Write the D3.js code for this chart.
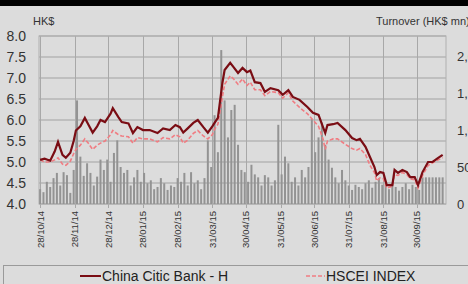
<!DOCTYPE html>
<html>
<head>
<meta charset="utf-8">
<script src="https://cdn.jsdelivr.net/npm/d3@7"></script>
<style>
  body { margin: 0; background: #dcdcdc; }
  svg { display: block; font-family: "Liberation Sans", Arial, sans-serif; }
</style>
</head>
<body>
<div id="chart-area"></div>
<script>

// Price series (HK$), dates as day/month/year
let priceDates = ["28/10/14","01/11/14","06/11/14","10/11/14","13/11/14","17/11/14","20/11/14","24/11/14","27/11/14","29/11/14",
  "03/12/14","07/12/14","10/12/14","14/12/14","18/12/14","21/12/14","25/12/14","30/12/14","01/01/15","06/01/15",
  "09/01/15","15/01/15","19/01/15","23/01/15","28/01/15","03/02/15","10/02/15","15/02/15","21/02/15","26/02/15",
  "02/03/15","05/03/15","09/03/15","14/03/15","18/03/15","23/03/15","27/03/15","31/03/15","02/04/15","05/04/15",
  "09/04/15","11/04/15","16/04/15","19/04/15","23/04/15","27/04/15","01/05/15","04/05/15","08/05/15","13/05/15",
  "17/05/15","22/05/15","29/05/15","02/06/15","07/06/15","11/06/15","17/06/15","24/06/15","29/06/15","04/07/15",
  "08/07/15","10/07/15","12/07/15","17/07/15","21/07/15","28/07/15","03/08/15","07/08/15","10/08/15","15/08/15",
  "19/08/15","23/08/15","25/08/15","28/08/15","31/08/15","03/09/15","08/09/15","10/09/15","13/09/15","17/09/15",
  "21/09/15","24/09/15","28/09/15","01/10/15","05/10/15","10/10/15","14/10/15","19/10/15","23/10/15"];

let bankPrice = [5.05,5.08,5.03,5.25,5.48,5.17,5.10,5.22,5.50,5.75,
  5.85,6.05,5.90,5.70,5.85,6.00,5.95,6.15,6.28,6.07,
  5.95,5.92,5.69,5.83,5.76,5.76,5.69,5.80,5.76,5.88,
  5.83,5.70,5.80,5.93,6.00,5.83,5.70,5.85,5.93,6.05,
  6.88,7.19,7.36,7.26,7.12,7.24,7.14,7.18,6.90,6.88,
  6.67,6.76,6.71,6.60,6.71,6.55,6.48,6.31,6.17,6.12,
  5.83,5.69,5.88,5.90,5.93,5.76,5.57,5.52,5.55,5.36,
  5.12,4.88,4.69,4.76,4.74,4.45,4.45,4.81,4.74,4.81,
  4.76,4.64,4.64,4.45,4.76,5.00,5.00,5.10,5.17];

let hsceiIndex = [5.05,5.00,5.00,5.05,5.10,4.95,4.92,5.02,5.20,5.30,
  5.40,5.55,5.45,5.30,5.40,5.45,5.50,5.65,5.75,5.65,
  5.62,5.60,5.45,5.58,5.55,5.55,5.48,5.58,5.55,5.65,
  5.60,5.45,5.52,5.68,5.75,5.62,5.55,5.65,5.78,5.90,
  6.55,6.85,7.05,6.98,6.85,6.98,6.82,6.90,6.72,6.72,
  6.58,6.68,6.65,6.52,6.65,6.45,6.30,6.15,6.00,5.85,
  5.55,5.30,5.50,5.55,5.55,5.42,5.32,5.28,5.32,5.18,
  4.92,4.75,4.55,4.62,4.60,4.38,4.42,4.70,4.68,4.75,
  4.70,4.60,4.58,4.38,4.68,4.92,4.98,5.05,5.10];

// Turnover (HK$ mn), one bar every three days from the first date
let turnoverStart = "28/10/14";
let turnover = [200,160,300,230,350,420,250,430,390,150,
  460,1400,640,380,550,420,250,370,600,460,
  600,300,690,860,500,420,460,250,360,460,
  300,420,280,320,200,230,350,280,190,250,
  230,350,300,420,250,430,280,320,200,350,
  860,500,1200,700,2080,1400,900,1270,1340,800,
  460,430,300,530,400,360,250,390,360,250,
  320,1070,400,640,550,300,360,250,460,360,
  500,1150,700,900,1100,800,600,490,360,280,
  460,320,250,190,260,230,200,280,320,220,
  300,350,260,260,200,280,230,180,230,280,
  200,260,230,190,360,360,360,360,360,360,360];

// Axis ticks
let leftTicks = [4.0,4.5,5.0,5.5,6.0,6.5,7.0,7.5,8.0];
let rightTicks = [0,500,1000,1500,2000];
let dateTicks = ["28/10/14","28/11/14","28/12/14","28/01/15","28/02/15","31/03/15",
  "30/04/15","31/05/15","30/06/15","31/07/15","31/08/15","30/09/15"];

let parseDate = d3.timeParse("%d/%m/%y");

let W = 468, H = 284;
let plot = {left: 39, right: 446, top: 36, bottom: 204};

let svg = d3.select("#chart-area").append("svg")
    .attr("width", W)
    .attr("height", H);

// Background + black band at top
svg.append("rect").attr("width", W).attr("height", H).attr("fill", "#dcdcdc");
svg.append("rect").attr("width", W).attr("height", 6).attr("fill", "#000");

// Scales
let x = d3.scaleTime()
    .domain([new Date(2014, 9, 27), new Date(2015, 9, 26)])
    .range([plot.left, plot.right]);

let y = d3.scaleLinear()
    .domain([4, 8])
    .range([plot.bottom, plot.top]);

let y2 = d3.scaleLinear()
    .domain([0, 2270])
    .range([plot.bottom, plot.top]);

// Horizontal grid
svg.append("g")
    .selectAll("line")
    .data(leftTicks)
    .join("line")
    .attr("x1", plot.left).attr("x2", plot.right)
    .attr("y1", d => y(d)).attr("y2", d => y(d))
    .attr("stroke", "#a2a2a2")
    .attr("stroke-width", 1.2);

// Vertical grid at date ticks
svg.append("g")
    .selectAll("line")
    .data(dateTicks)
    .join("line")
    .attr("x1", d => Math.round(x(parseDate(d))) + 0.5)
    .attr("x2", d => Math.round(x(parseDate(d))) + 0.5)
    .attr("y1", plot.top).attr("y2", plot.bottom + 4)
    .attr("stroke", "#a8a8a8")
    .attr("stroke-width", 1);

// Plot frame
svg.append("rect")
    .attr("x", plot.left).attr("y", plot.top)
    .attr("width", plot.right - plot.left)
    .attr("height", plot.bottom - plot.top)
    .attr("fill", "none")
    .attr("stroke", "#b0b0b0");

// Turnover bars
let start = parseDate(turnoverStart);
let barData = turnover.map((v, i) => ({date: d3.timeDay.offset(start, i * 3), value: v}));

svg.append("g")
    .selectAll("rect")
    .data(barData)
    .join("rect")
    .attr("x", d => x(d.date) - 1)
    .attr("width", 2)
    .attr("y", d => y2(d.value))
    .attr("height", d => plot.bottom - y2(d.value))
    .attr("fill", "#939393");

// Lines
let lineData = priceDates.map((d, i) => ({date: parseDate(d), bank: bankPrice[i], hscei: hsceiIndex[i]}));

let hsceiLine = d3.line()
    .x(d => x(d.date))
    .y(d => y(d.hscei));

let bankLine = d3.line()
    .x(d => x(d.date))
    .y(d => y(d.bank));

svg.append("path")
    .attr("d", hsceiLine(lineData))
    .attr("fill", "none")
    .attr("stroke", "#f07c82")
    .attr("stroke-width", 1.6)
    .attr("stroke-dasharray", "4,2");

svg.append("path")
    .attr("d", bankLine(lineData))
    .attr("fill", "none")
    .attr("stroke", "#7a0d14")
    .attr("stroke-width", 2.2);

// Left axis labels
svg.append("g")
    .selectAll("text")
    .data(leftTicks)
    .join("text")
    .attr("x", 26)
    .attr("y", d => y(d) + 5)
    .attr("text-anchor", "end")
    .attr("font-size", 14)
    .attr("fill", "#333")
    .text(d => d.toFixed(1));

// Right axis labels (run off the right edge, as in the source)
svg.append("g")
    .selectAll("text")
    .data(rightTicks)
    .join("text")
    .attr("x", 457)
    .attr("y", d => y2(d) + 5)
    .attr("font-size", 13)
    .attr("fill", "#333")
    .text(d => d3.format(",")(d));

// Axis titles
svg.append("text")
    .attr("x", 33).attr("y", 25)
    .attr("font-size", 11)
    .attr("fill", "#333")
    .text("HK$");

svg.append("text")
    .attr("x", 376).attr("y", 25)
    .attr("font-size", 11)
    .attr("fill", "#333")
    .text("Turnover (HK$ mn)");

// Date tick labels
svg.append("g")
    .selectAll("text")
    .data(dateTicks)
    .join("text")
    .attr("transform", d => "translate(" + (x(parseDate(d)) + 3.5) + ",211) rotate(-90)")
    .attr("text-anchor", "end")
    .attr("font-size", 9.5)
    .attr("fill", "#333")
    .text(d => d);

// Legend
svg.append("rect")
    .attr("x", 3.5).attr("y", 265.5)
    .attr("width", 470).attr("height", 30)
    .attr("fill", "none")
    .attr("stroke", "#9a9a9a");

svg.append("line")
    .attr("x1", 80).attr("x2", 101)
    .attr("y1", 276).attr("y2", 276)
    .attr("stroke", "#7a0d14").attr("stroke-width", 2);

svg.append("text")
    .attr("x", 102).attr("y", 281)
    .attr("font-size", 14)
    .attr("fill", "#222")
    .text("China Citic Bank - H");

svg.append("line")
    .attr("x1", 306).attr("x2", 325)
    .attr("y1", 276).attr("y2", 276)
    .attr("stroke", "#f07c82").attr("stroke-width", 1.6)
    .attr("stroke-dasharray", "4,2");

svg.append("text")
    .attr("x", 326).attr("y", 281)
    .attr("font-size", 14)
    .attr("fill", "#222")
    .text("HSCEI INDEX");

</script>
</body>
</html>
